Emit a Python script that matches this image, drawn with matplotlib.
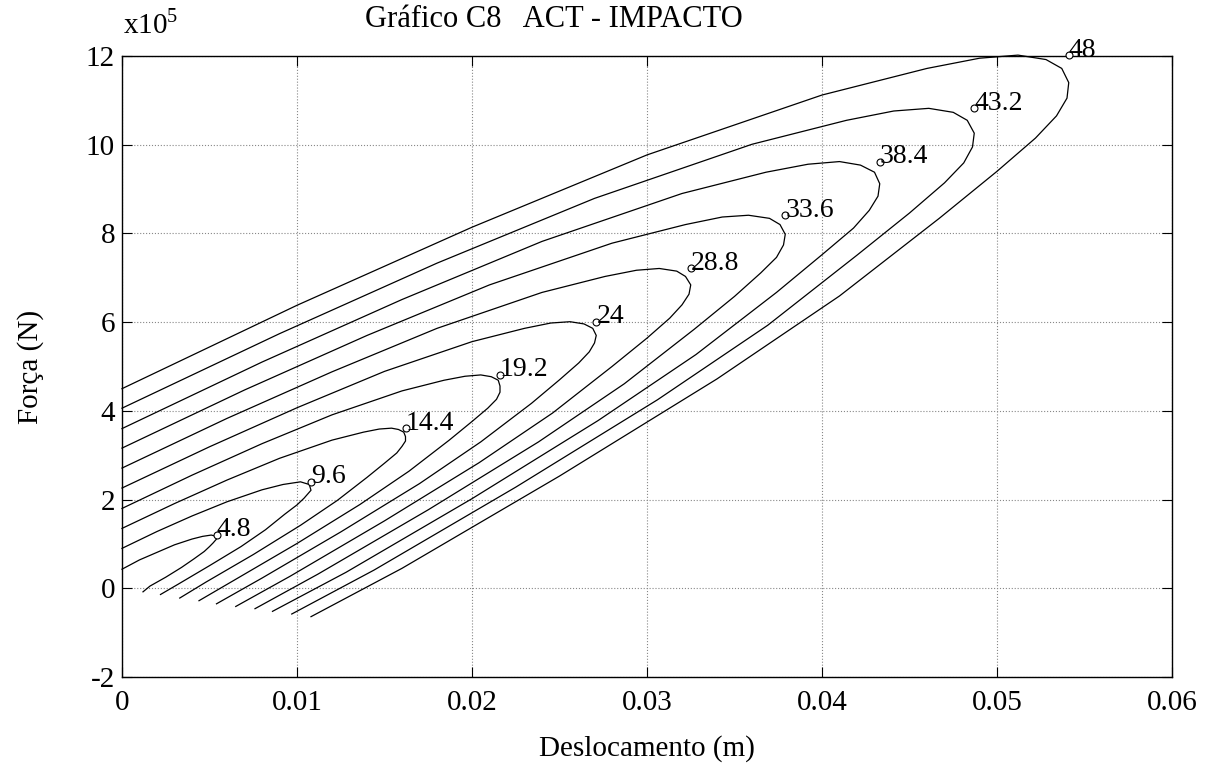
import matplotlib.pyplot as plt

plt.rcParams['font.family'] = ['Liberation Serif', 'DejaVu Serif']
plt.rcParams['mathtext.fontset'] = 'custom'
plt.rcParams['mathtext.rm'] = 'Liberation Serif'
plt.rcParams['axes.unicode_minus'] = False

# velocidades de impacto (rótulos das curvas)
rotulos = ['4.8', '9.6', '14.4', '19.2', '24', '28.8', '33.6', '38.4', '43.2', '48']

x_4_8 = [0.0, 0.0010, 0.0020, 0.0030, 0.0040, 0.0046, 0.0051, 0.0054, 0.0054, 0.0052,
         0.0050, 0.0047, 0.0041, 0.0034, 0.0025, 0.0016, 0.0012]
f_4_8 = [0.43, 0.64, 0.81, 0.98, 1.11, 1.17, 1.20, 1.17, 1.11, 1.02,
         0.94, 0.83, 0.66, 0.47, 0.25, 0.05, -0.08]

x_9_6 = [0.0, 0.0020, 0.0040, 0.0060, 0.0080, 0.0092, 0.0102, 0.0107, 0.0108, 0.0104,
         0.0100, 0.0093, 0.0082, 0.0068, 0.0050, 0.0032, 0.0022]
f_9_6 = [0.90, 1.28, 1.63, 1.95, 2.22, 2.34, 2.40, 2.34, 2.21, 2.03,
         1.88, 1.67, 1.32, 0.94, 0.51, 0.09, -0.14]

x_14_4 = [0.0, 0.0030, 0.0060, 0.0090, 0.0120, 0.0138, 0.0147, 0.0154, 0.0158, 0.0161, 0.0162,
          0.0162, 0.0160, 0.0157, 0.0150, 0.0140, 0.0123, 0.0102, 0.0075, 0.0048, 0.0033]
f_14_4 = [1.35, 1.91, 2.44, 2.93, 3.34, 3.52, 3.59, 3.61, 3.58, 3.52, 3.42,
          3.32, 3.20, 3.05, 2.82, 2.50, 1.98, 1.42, 0.76, 0.14, -0.22]

x_19_2 = [0.0, 0.0040, 0.0080, 0.0120, 0.0160, 0.0184, 0.0196, 0.0205, 0.0211, 0.0215, 0.0216,
          0.0216, 0.0214, 0.0209, 0.0200, 0.0187, 0.0164, 0.0136, 0.0100, 0.0064, 0.0044]
f_19_2 = [1.80, 2.55, 3.26, 3.91, 4.45, 4.69, 4.78, 4.81, 4.77, 4.69, 4.56,
          4.42, 4.26, 4.06, 3.76, 3.34, 2.64, 1.89, 1.01, 0.18, -0.28]

x_24 = [0.0, 0.0050, 0.0100, 0.0150, 0.0200, 0.0230, 0.0245, 0.0256, 0.0264, 0.0269, 0.0271,
        0.0270, 0.0267, 0.0261, 0.0250, 0.0234, 0.0205, 0.0170, 0.0125, 0.0080, 0.0054]
f_24 = [2.26, 3.19, 4.07, 4.89, 5.56, 5.86, 5.98, 6.01, 5.96, 5.86, 5.70,
        5.53, 5.33, 5.08, 4.70, 4.17, 3.30, 2.36, 1.27, 0.23, -0.35]

x_28_8 = [0.0, 0.0060, 0.0120, 0.0180, 0.0240, 0.0276, 0.0294, 0.0307, 0.0317, 0.0322, 0.0325,
          0.0324, 0.0320, 0.0313, 0.0300, 0.0280, 0.0246, 0.0204, 0.0150, 0.0096, 0.0065]
f_28_8 = [2.71, 3.83, 4.88, 5.86, 6.67, 7.03, 7.17, 7.21, 7.15, 7.03, 6.84,
          6.63, 6.39, 6.09, 5.64, 5.00, 3.95, 2.83, 1.52, 0.27, -0.41]

x_33_6 = [0.0, 0.0070, 0.0140, 0.0210, 0.0280, 0.0322, 0.0343, 0.0358, 0.0370, 0.0376, 0.0379,
          0.0378, 0.0374, 0.0365, 0.0350, 0.0327, 0.0287, 0.0238, 0.0175, 0.0112, 0.0076]
f_33_6 = [3.16, 4.47, 5.70, 6.84, 7.78, 8.20, 8.37, 8.41, 8.34, 8.20, 7.98,
          7.74, 7.46, 7.11, 6.58, 5.84, 4.61, 3.30, 1.77, 0.32, -0.46]

x_38_4 = [0.0, 0.0080, 0.0160, 0.0240, 0.0320, 0.0368, 0.0392, 0.0410, 0.0422, 0.0430, 0.0433,
          0.0432, 0.0427, 0.0418, 0.0400, 0.0374, 0.0328, 0.0272, 0.0200, 0.0128, 0.0086]
f_38_4 = [3.60, 5.10, 6.51, 7.82, 8.90, 9.38, 9.56, 9.62, 9.54, 9.38, 9.12,
          8.84, 8.52, 8.12, 7.52, 6.67, 5.27, 3.78, 2.02, 0.36, -0.52]

x_43_2 = [0.0, 0.0090, 0.0180, 0.0270, 0.0360, 0.0414, 0.0441, 0.0461, 0.0475, 0.0483, 0.0487,
          0.0486, 0.0481, 0.0470, 0.0450, 0.0420, 0.0369, 0.0306, 0.0225, 0.0144, 0.0097]
f_43_2 = [4.06, 5.74, 7.33, 8.79, 10.01, 10.55, 10.76, 10.82, 10.73, 10.55, 10.26,
          9.95, 9.59, 9.14, 8.46, 7.51, 5.93, 4.25, 2.28, 0.41, -0.58]

x_48 = [0.0, 0.0100, 0.0200, 0.0300, 0.0400, 0.0460, 0.0490, 0.0512, 0.0528, 0.0537, 0.0541,
        0.0540, 0.0534, 0.0522, 0.0500, 0.0467, 0.0410, 0.0340, 0.0250, 0.0160, 0.0108]
f_48 = [4.50, 6.38, 8.14, 9.77, 11.12, 11.72, 11.95, 12.02, 11.92, 11.72, 11.40,
        11.05, 10.65, 10.15, 9.40, 8.34, 6.59, 4.72, 2.53, 0.45, -0.64]

curvas = [(x_4_8, f_4_8), (x_9_6, f_9_6), (x_14_4, f_14_4), (x_19_2, f_19_2), (x_24, f_24),
          (x_28_8, f_28_8), (x_33_6, f_33_6), (x_38_4, f_38_4), (x_43_2, f_43_2), (x_48, f_48)]

fig = plt.figure(figsize=(12.22, 7.73), dpi=100)
ax = fig.add_axes([122 / 1222, 1 - 677 / 773, 1050 / 1222, 621 / 773])

for (xs, fs), rot in zip(curvas, rotulos):
    ax.plot(xs, fs, color='black', linewidth=0.9, clip_on=False)
    # marcador no ponto (deslocamento max, força max)
    xm, fm = max(xs), max(fs)
    ax.plot(xm, fm, 'o', markersize=5, markerfacecolor='white',
            markeredgecolor='black', markeredgewidth=0.8, zorder=3, clip_on=False)
    ax.annotate(rot, (xm, fm), xytext=(0, -1), textcoords='offset points',
                ha='left', va='baseline', fontsize=20, annotation_clip=False)

ax.set_xlim(0, 0.06)
ax.set_ylim(-2, 12)
ax.set_xticks([0, 0.01, 0.02, 0.03, 0.04, 0.05, 0.06])
ax.set_xticklabels(['0', '0.01', '0.02', '0.03', '0.04', '0.05', '0.06'])
ax.set_yticks([-2, 0, 2, 4, 6, 8, 10, 12])
ax.grid(True, linestyle=':', color='#888888', linewidth=0.8)
ax.tick_params(direction='in', length=7, width=0.8, labelsize=21,
               top=True, right=True)
ax.tick_params(axis='x', pad=9)
ax.tick_params(axis='y', pad=5)
for s in ax.spines.values():
    s.set_linewidth(1.0)

ax.set_xlabel('Deslocamento (m)', fontsize=21, labelpad=14)
ax.set_ylabel('Força (N)', fontsize=21, labelpad=30)

fig.text(365 / 1222, 1 - 27 / 773, 'Gráfico C8   ACT - IMPACTO', fontsize=22,
         ha='left', va='baseline')
fig.text(123 / 1222, 1 - 33 / 773, r'x10$^5$', fontsize=21, ha='left', va='baseline')

fig.savefig('out.png', dpi=100)
